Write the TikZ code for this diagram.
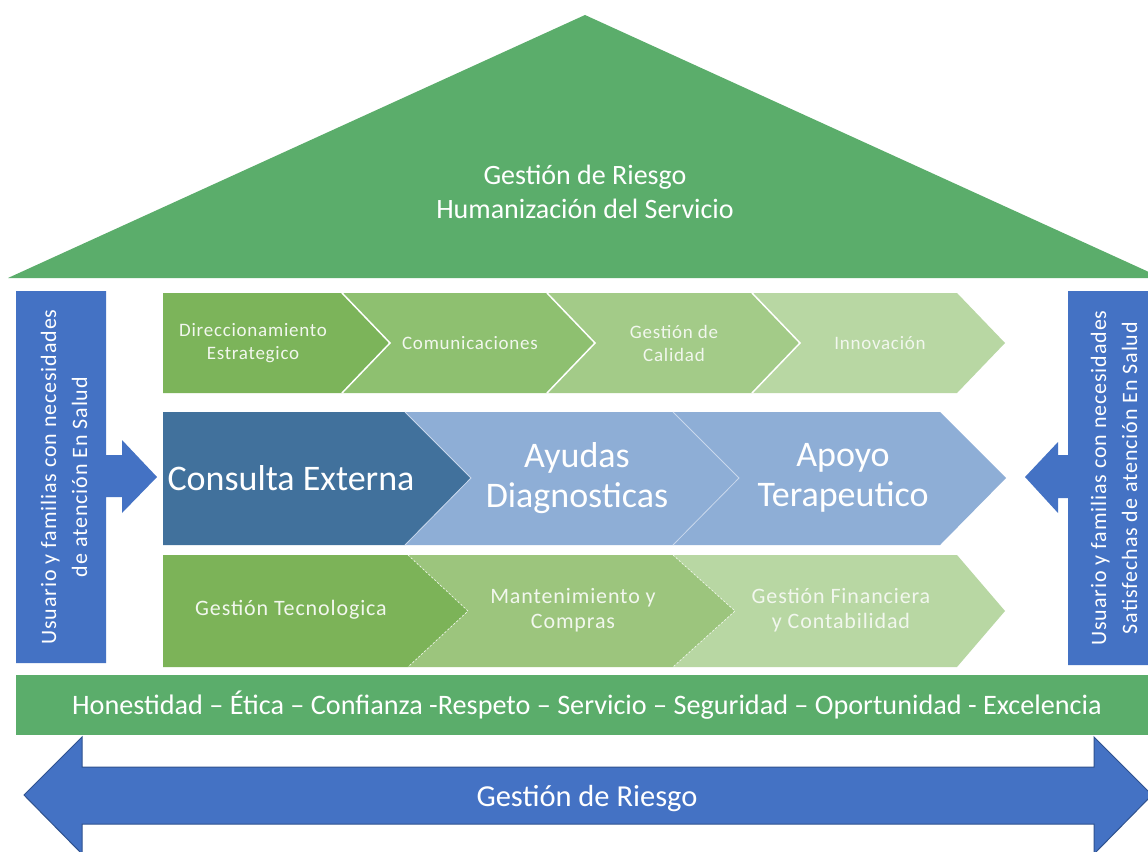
\documentclass[tikz,border=0pt]{standalone}
\usepackage{fontspec}
\setmainfont{Carlito}
\definecolor{roofgreen}{HTML}{5BAD6B}
\definecolor{sideblue}{HTML}{4472C4}
\definecolor{darkblue}{HTML}{2F528F}
\definecolor{topA}{HTML}{7CB45A}
\definecolor{topB}{HTML}{8EC070}
\definecolor{topC}{HTML}{A3CB88}
\definecolor{topD}{HTML}{B8D7A3}
\definecolor{midA}{HTML}{41719C}
\definecolor{midB}{HTML}{8EAED6}
\definecolor{midline}{HTML}{C9D8EC}
\definecolor{botA}{HTML}{7CB358}
\definecolor{botB}{HTML}{9CC57D}
\definecolor{botC}{HTML}{B8D7A3}
\definecolor{lighttext}{HTML}{F2F7EE}
\tikzset{
  roofTxt/.style={text=white, align=center, font=\fontsize{28}{34}\selectfont},
  sideTxt/.style={text=white, align=center, rotate=90, font=\fontsize{22}{31}\selectfont\addfontfeature{LetterSpace=4}},
  topTxt/.style={text=lighttext, align=center, font=\fontsize{19}{23}\selectfont\addfontfeature{LetterSpace=4}},
  midTxt/.style={text=white, align=center, font=\fontsize{36}{40}\selectfont},
  botTxt/.style={text=lighttext, align=center, font=\fontsize{22}{25}\selectfont\addfontfeature{LetterSpace=4}},
  barTxt/.style={text=white, font=\fontsize{28.2}{32}\selectfont},
  topline/.style={draw=white, line width=1.5pt},
  midedge/.style={draw=midline, line width=0.8pt},
  botedge/.style={draw=white!85!botB, line width=0.7pt, dash pattern=on 2pt off 2pt},
}
\begin{document}
\begin{tikzpicture}[x=1pt,y=-1pt]
\useasboundingbox (0,0) rectangle (1148,851);
\clip (0,0) rectangle (1148,851);
\fill[white] (0,0) rectangle (1148,851);

% roof
\fill[roofgreen] (585,15) -- (1162,278) -- (8,278) -- cycle;
\node[roofTxt] (roof) at (585,192) {Gestión de Riesgo\\Humanización del Servicio};

% left side box with arrow
\fill[sideblue] (16,291) -- (106,291) -- (106,455) -- (122,455) -- (122,440) -- (157,477) -- (122,513) -- (122,497) -- (106,497) -- (106,663) -- (16,663) -- cycle;
\node[sideTxt] (lefttxt) at (64,477) {Usuario y familias con necesidades\\de atención En Salud};

% right side box with arrow
\fill[sideblue] (1150,291) -- (1068,291) -- (1068,455) -- (1058,455) -- (1058,442) -- (1025,477) -- (1058,513) -- (1058,498) -- (1068,498) -- (1068,665) -- (1150,665) -- cycle;
\node[sideTxt] (righttxt) at (1114,478) {Usuario y familias con necesidades\\Satisfechas de atención En Salud};

% top row
\fill[topA] (163,293) -- (342,293) -- (390,343) -- (342,393) -- (163,393) -- cycle;
\fill[topB] (342,293) -- (547,293) -- (595,343) -- (547,393) -- (342,393) -- (390,343) -- cycle;
\fill[topC] (547,293) -- (752,293) -- (800,343) -- (752,393) -- (547,393) -- (595,343) -- cycle;
\fill[topD] (752,293) -- (957,293) -- (1005,343) -- (957,393) -- (752,393) -- (800,343) -- cycle;
\draw[topline] (342,293) -- (390,343) -- (342,393);
\draw[topline] (547,293) -- (595,343) -- (547,393);
\draw[topline] (752,293) -- (800,343) -- (752,393);
\node[topTxt] (t1) at (253,343) {Direccionamiento\\Estrategico};
\node[topTxt] (t2) at (470,343) {Comunicaciones};
\node[topTxt] (t3) at (674,343) {Gestión de\\Calidad};
\node[topTxt] (t4) at (880,343) {Innovación};

% middle row
\fill[midA] (163,412) -- (405,412) -- (471,478) -- (405,545) -- (163,545) -- cycle;
\fill[midB] (405,412) -- (673,412) -- (739,478) -- (673,545) -- (405,545) -- (471,478) -- cycle;
\fill[midB] (673,412) -- (940,412) -- (1006,478) -- (940,545) -- (673,545) -- (739,478) -- cycle;
\draw[midedge] (405,412) -- (471,478) -- (405,545);
\draw[midedge] (673,412) -- (739,478) -- (673,545);
\node[midTxt] (m1) at (291,478) {Consulta Externa};
\node[midTxt] (m2) at (577,478) {Ayudas\\Diagnosticas};
\node[midTxt] (m3) at (843,478) {Apoyo\\Terapeutico};

% bottom row
\fill[botA] (163,555) -- (408,555) -- (468,611) -- (408,667) -- (163,667) -- cycle;
\fill[botB] (408,555) -- (673,555) -- (735,611) -- (673,667) -- (408,667) -- (468,611) -- cycle;
\fill[botC] (673,555) -- (957,555) -- (1005,611) -- (957,667) -- (673,667) -- (735,611) -- cycle;
\draw[botedge] (408,555) -- (468,611) -- (408,667);
\draw[botedge] (673,555) -- (735,611) -- (673,667);
\node[botTxt] (b1) at (291,610) {Gestión Tecnologica};
\node[botTxt] (b2) at (573,610) {Mantenimiento y\\Compras};
\node[botTxt] (b3) at (841,610) {Gestión Financiera\\y Contabilidad};

% values bar
\fill[roofgreen] (16,675) rectangle (1150,735);
\node[barTxt] (values) at (587,705) {Honestidad – Ética – Confianza -Respeto – Servicio – Seguridad – Oportunidad - Excelencia};

% bottom double arrow
\filldraw[fill=sideblue, draw=darkblue, line width=1pt] (24,795) -- (82,737) -- (82,767) -- (1094,767) -- (1094,737) -- (1152,795) -- (1094,854) -- (1094,824) -- (82,824) -- (82,854) -- cycle;
\node[roofTxt, font=\fontsize{30.5}{34}\selectfont] (risk) at (587,799) {Gestión de Riesgo};
\end{tikzpicture}
\end{document}
